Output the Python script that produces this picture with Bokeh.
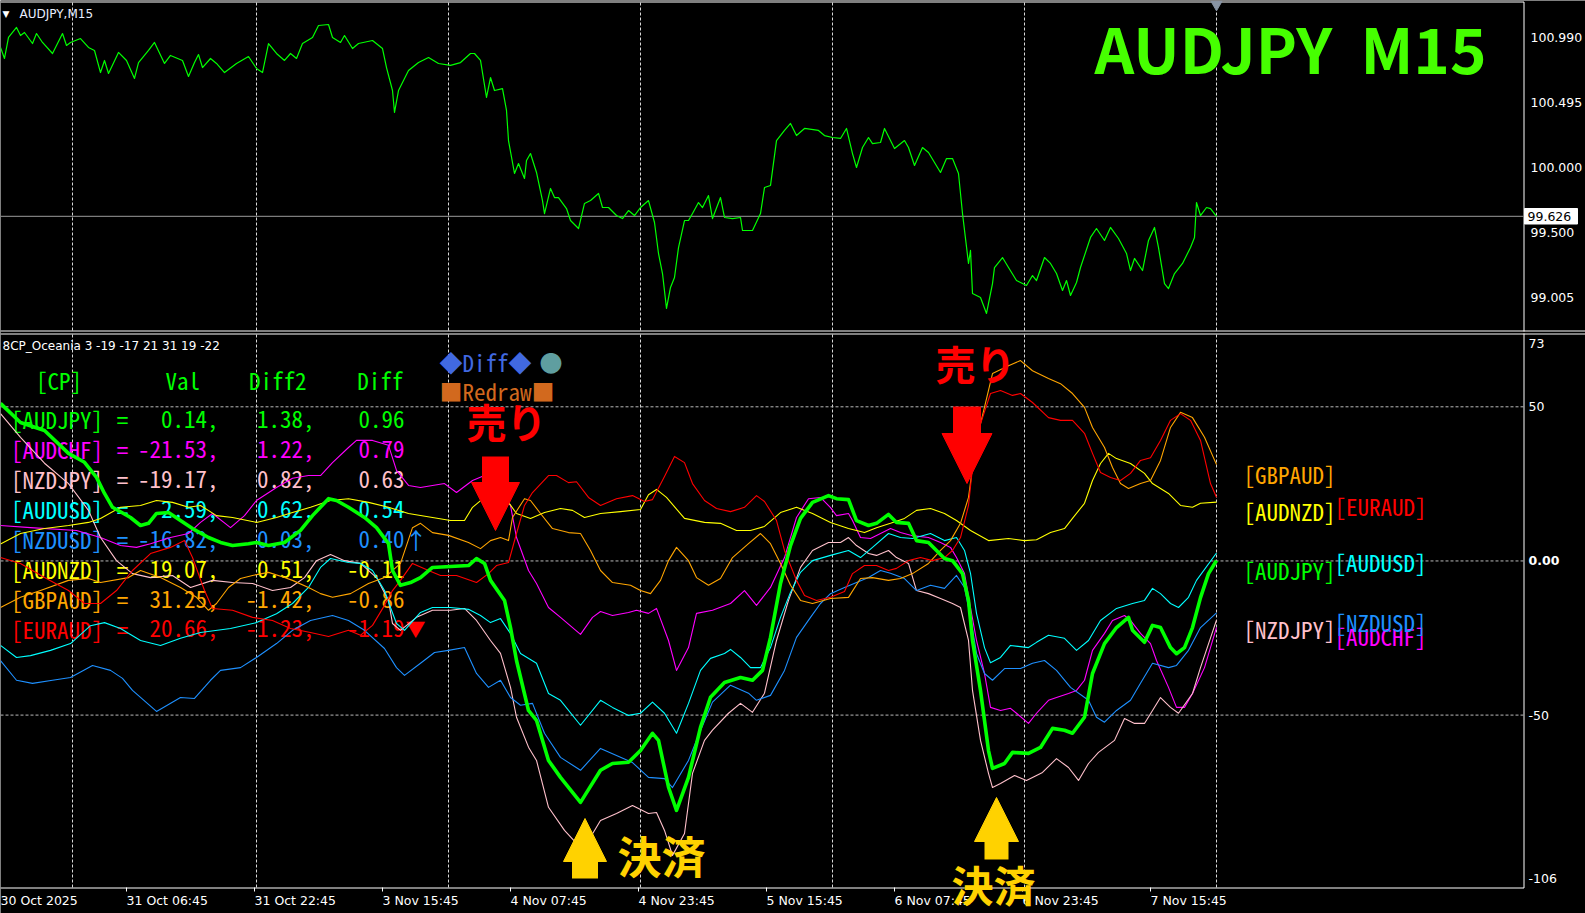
from bokeh.plotting import figure
from bokeh.models import Range1d, Label, Arrow, NormalHead, ColumnDataSource
from bokeh.core.properties import value
from bokeh.embed import file_html
from bokeh.resources import INLINE

# ======================= DATA =======================
# bar index = M15 bar number counted from the first visible bar
price_bars = [0,2,4,8,10,12,16,18,21,26,31,33,35,40,44,47,50,52,54,59,63,67,69,74,77,82,85,91,94,97,
              99,101,105,108,112,118,124,128,131,134,138,142,145,148,151,156,159,164,166,170,172,176,179,186,191,193,196,197,199,204,
              209,214,219,225,230,235,237,240,243,245,247,251,253,254,257,259,262,263,265,268,271,272,275,277,279,283,285,289,292,295,
              299,301,304,308,311,314,317,320,324,327,329,331,333,335,337,339,342,344,346,349,351,354,356,360,362,366,370,371,376,380,
              382,385,388,392,395,398,402,409,412,416,420,423,426,428,431,434,436,440,442,447,452,454,457,461,464,467,470,473,476,479,
              481,484,485,486,490,493,496,497,501,504,508,513,516,518,522,525,528,531,533,535,538,540,545,548,552,555,559,563,565,567,
              571,574,577,579,582,584,587,591,595,597,598,600,603,605,608]
price_vals = [100.912,100.828,100.988,101.064,101.003,101.026,100.942,101.018,100.950,100.866,
              101.018,100.927,100.950,100.980,100.912,100.889,100.721,100.813,100.714,100.874,
              100.813,100.676,100.797,100.889,100.950,100.790,100.851,100.813,100.691,100.797,
              100.858,100.759,100.828,100.790,100.721,100.790,100.843,100.752,100.721,100.942,
              100.866,100.813,100.866,100.828,100.942,100.988,101.079,101.087,100.988,100.950,
              101.003,100.904,100.942,100.965,100.904,100.759,100.584,100.417,100.584,100.736,
              100.797,100.835,100.790,100.775,100.797,100.866,100.866,100.813,100.531,100.683,
              100.584,100.599,100.432,100.203,99.952,100.028,99.914,100.051,100.104,99.960,
              99.746,99.647,99.838,99.769,99.769,99.685,99.594,99.533,99.724,99.746,
              99.800,99.693,99.693,99.632,99.609,99.670,99.632,99.693,99.746,99.579,
              99.343,99.190,98.924,99.084,99.160,99.388,99.594,99.594,99.647,99.731,
              99.693,99.784,99.609,99.769,99.617,99.609,99.617,99.518,99.518,99.647,
              99.845,99.861,100.203,100.280,100.333,100.241,100.295,100.280,100.241,100.226,
              100.219,100.295,100.104,99.998,100.150,100.226,100.180,100.188,100.295,100.142,
              100.203,100.150,100.013,100.150,100.112,100.036,99.960,100.066,100.066,99.952,
              99.647,99.267,99.366,99.038,99.008,98.886,99.114,99.236,99.312,99.236,
              99.137,99.099,99.175,99.137,99.312,99.267,99.190,99.061,99.137,99.023,
              99.122,99.236,99.465,99.533,99.442,99.541,99.457,99.343,99.213,99.305,
              99.213,99.442,99.541,99.388,99.114,99.076,99.190,99.267,99.388,99.465,
              99.731,99.632,99.693,99.685,99.626]
last_price = 99.626
price_ticks = [99.005, 99.500, 100.000, 100.495, 100.990]

audjpy_bars = [0,10,22,34,42,48,52,56,65,70,74,78,84,90,96,104,110,116,124,128,134,142,150,156,164,168,174,182,188,194,
               196,200,205,210,216,225,234,238,242,245,252,255,258,264,268,274,280,290,300,306,314,320,326,329,334,338,344,350,355,362,
               370,376,381,385,390,395,400,406,414,418,424,428,434,438,444,448,454,458,464,468,472,476,481,484,486,490,494,496,502,506,
               514,520,526,532,536,542,546,552,558,564,566,572,576,580,585,588,592,596,600,604,608]
audjpy_vals = [51.1,44.9,42.3,34.9,32.0,27.1,21.9,17.4,14.1,11.5,12.2,15.4,15.7,13.1,10.5,7.6,6.0,5.0,5.6,6.0,
               5.0,6.0,9.9,14.7,20.2,19.6,17.4,14.1,10.8,5.6,-3.1,-7.9,-7.0,-5.4,-2.1,-1.8,-1.5,0.8,-0.8,-6.3,
               -12.8,-21.6,-32.3,-48.5,-51.7,-64.7,-70.2,-78.3,-67.9,-65.7,-65.3,-61.5,-55.9,-58.2,-73.4,-80.9,-70.2,-54.0,-44.2,-39.4,
               -37.8,-38.7,-35.5,-24.8,-7.3,5.0,13.8,19.0,21.2,20.2,19.9,13.1,11.5,12.2,15.1,12.5,12.2,6.6,6.0,3.4,
               0.8,0.1,-4.1,-12.8,-25.8,-42.0,-61.5,-67.3,-65.7,-62.1,-62.4,-60.5,-54.3,-54.9,-55.9,-50.7,-36.5,-26.8,-21.6,-18.3,
               -22.5,-26.4,-20.9,-21.6,-28.1,-30.1,-28.1,-21.6,-11.9,-4.1,0.14]

audchf_bars = [0,15,38,50,60,68,75,85,94,100,106,115,122,128,138,146,154,160,166,174,178,186,194,198,204,210,222,228,236,242,
               250,255,258,264,268,274,280,290,296,300,306,314,318,324,328,334,338,344,348,356,365,372,378,385,392,398,404,410,415,418,
               424,426,430,435,440,445,450,456,464,470,475,478,482,485,488,492,495,500,505,508,514,518,524,528,534,538,542,546,552,556,
               562,565,570,575,578,584,588,592,596,602,608]
audchf_vals = [11.5,10.8,9.9,7.6,5.0,4.4,5.6,7.6,8.9,12.5,15.4,10.8,14.7,19.6,23.8,26.8,27.7,27.7,31.9,36.8,
               39.1,39.1,37.5,29.4,24.5,23.8,25.1,22.2,26.1,27.7,21.9,18.0,7.6,-3.1,-7.3,-15.1,-18.3,-23.8,-18.3,-16.4,
               -17.7,-16.7,-16.0,-17.0,-15.4,-25.8,-35.5,-28.1,-17.0,-16.0,-13.8,-9.6,-14.4,-8.6,1.1,14.1,20.2,20.6,17.3,14.7,
               15.4,13.1,7.6,7.3,8.9,10.5,9.2,8.2,7.6,6.0,4.4,1.1,-4.1,-15.1,-25.8,-36.5,-47.5,-48.5,-47.8,-49.4,
               -52.7,-49.4,-45.2,-44.3,-43.0,-42.0,-38.7,-29.0,-23.5,-19.3,-17.7,-19.3,-23.5,-26.8,-32.3,-41.0,-47.5,-47.5,-43.0,-34.6,
               -21.53]

nzdjpy_bars = [0,10,22,34,44,50,58,66,75,86,95,106,116,126,136,145,152,158,165,172,180,188,194,196,200,208,216,225,232,238,
               245,250,255,258,264,268,274,282,288,294,300,308,316,324,328,332,336,342,346,352,356,364,370,376,382,388,394,400,406,414,
               420,424,428,434,438,444,448,454,458,464,470,476,480,484,486,490,494,496,500,507,513,521,528,534,539,544,549,557,562,567,
               572,580,585,589,596,600,608]
nzdjpy_vals = [47.8,40.1,31.7,25.1,16.4,7.6,0.1,-4.1,-5.4,-4.7,-8.6,-6.3,-7.0,-7.3,-9.6,-8.6,-5.4,0.1,2.1,0.1,
               -0.8,-5.4,-12.8,-20.3,-22.5,-18.3,-16.0,-16.0,-15.4,-19.3,-25.8,-30.0,-41.0,-50.7,-60.4,-64.7,-79.9,-87.4,-91.6,-90.7,
               -84.2,-81.9,-79.3,-81.9,-81.6,-87.4,-95.5,-88.4,-68.9,-58.2,-54.9,-49.4,-46.2,-49.1,-42.9,-25.8,-12.8,-2.1,3.4,6.0,
               6.0,7.6,5.0,2.4,1.8,3.4,1.1,-0.8,-9.6,-10.6,-12.2,-13.8,-15.1,-25.8,-42.0,-58.2,-68.9,-73.5,-72.2,-69.6,
               -71.2,-68.6,-64.1,-67.0,-71.2,-65.7,-62.1,-58.2,-51.1,-52.7,-52.7,-44.3,-47.5,-49.4,-43.0,-34.6,-19.17]

audusd_bars = [0,8,15,25,35,45,52,60,70,80,90,100,115,128,138,146,154,160,165,174,180,186,192,195,198,202,210,216,225,234,
               240,245,250,255,260,268,274,280,290,300,306,314,320,326,332,338,344,350,355,362,365,370,375,380,385,390,395,400,406,415,
               424,430,436,444,450,456,465,472,478,482,485,488,492,495,500,505,514,518,524,532,538,544,550,558,566,572,576,580,585,589,
               594,598,608]
audusd_vals = [-27.4,-31.3,-30.7,-29.0,-26.8,-21.0,-20.0,-21.9,-25.8,-27.4,-25.1,-23.2,-21.9,-20.0,-17.1,-13.8,-8.6,-2.1,0.8,-0.5,
               -0.8,-3.1,-9.6,-15.1,-20.3,-22.5,-16.7,-15.1,-15.1,-15.7,-17.7,-20.0,-18.7,-23.5,-30.0,-33.2,-43.0,-45.2,-53.3,-45.2,
               -47.5,-50.1,-49.4,-45.8,-49.4,-55.9,-46.2,-35.5,-31.6,-30.0,-28.7,-31.3,-34.6,-34.6,-28.1,-18.3,-10.2,-3.7,0.1,1.8,
               3.4,1.1,4.4,8.9,7.6,7.3,8.9,6.6,7.6,3.4,-4.0,-17.0,-28.1,-33.0,-31.3,-27.4,-28.1,-26.4,-24.1,-25.1,
               -29.0,-25.8,-19.3,-15.4,-13.8,-12.8,-8.9,-10.6,-13.8,-15.1,-11.8,-6.3,2.59]

nzdusd_bars = [0,8,16,26,35,46,55,61,66,78,90,97,105,110,120,128,138,146,155,166,174,182,192,198,202,210,217,224,232,238,
               244,250,255,260,266,272,280,290,300,308,316,324,332,336,344,350,356,365,374,378,385,392,398,405,410,415,422,428,434,440,
               445,452,458,465,472,478,482,485,488,492,496,502,510,516,522,528,535,544,548,552,558,565,570,576,584,588,594,600,608]
nzdusd_vals = [-32.3,-38.7,-39.7,-38.7,-37.8,-33.9,-35.5,-38.1,-42.0,-48.8,-44.3,-44.6,-38.7,-35.5,-34.6,-31.3,-26.8,-22.5,-19.3,-17.7,
               -19.3,-22.5,-28.4,-34.6,-37.1,-33.2,-29.7,-29.0,-28.1,-36.5,-41.0,-38.7,-44.3,-46.8,-46.2,-55.9,-63.7,-67.9,-60.8,-63.1,
               -65.4,-70.2,-70.6,-73.5,-64.7,-55.0,-45.8,-40.3,-42.9,-45.2,-43.6,-35.5,-24.8,-18.3,-13.8,-10.6,-8.6,-7.0,-5.4,-3.1,
               -4.0,-5.7,-9.6,-7.9,-8.9,-4.7,-8.6,-18.3,-30.0,-36.5,-38.7,-34.9,-34.9,-33.2,-32.3,-35.5,-41.0,-45.2,-50.7,-52.3,
               -48.5,-45.2,-39.7,-33.2,-34.6,-33.9,-29.0,-21.6,-16.82]

audnzd_bars = [0,10,22,34,44,50,60,70,78,86,94,100,108,116,128,138,146,155,165,174,184,194,204,216,225,232,236,242,248,254,
               258,265,272,280,286,292,300,310,320,324,328,333,342,352,360,368,375,382,390,398,406,415,424,432,438,445,452,458,465,472,
               478,485,494,504,512,518,525,532,536,542,546,550,554,558,565,572,576,584,590,596,600,608]
audnzd_vals = [5.5,8.9,10.5,11.5,12.5,13.8,17.4,18.0,19.6,19.0,17.4,18.0,14.7,14.1,12.5,14.1,15.7,17.4,19.6,20.2,
               19.0,17.4,15.4,14.1,13.1,13.1,17.4,20.6,20.2,19.0,15.4,13.8,15.7,17.0,16.4,14.1,15.4,16.0,16.7,21.5,
               23.2,20.6,13.8,12.5,12.2,9.9,9.9,11.2,15.7,17.4,15.4,12.5,10.5,9.2,10.8,12.2,13.8,16.4,17.0,15.4,
               13.1,9.9,6.6,7.3,6.6,6.9,9.2,10.5,13.8,18.7,26.1,31.6,34.9,33.2,31.6,28.4,25.1,21.9,18.0,17.4,18.7,19.07]

gbpaud_bars = [0,10,20,34,44,50,64,70,80,90,98,104,108,114,120,126,134,142,146,154,160,166,175,184,192,200,206,210,216,224,
               234,240,245,250,254,256,262,265,270,276,284,290,295,300,306,315,320,325,330,334,338,344,348,354,360,366,374,380,385,390,
               395,400,406,415,424,430,436,444,450,456,464,470,475,480,484,486,490,494,496,504,510,516,524,530,536,542,546,552,556,560,
               564,570,575,580,585,590,596,602,608]
gbpaud_vals = [-15.1,-11.8,-9.6,-6.3,-5.7,-7.0,-5.4,-3.1,-5.4,-8.6,-11.8,-16.0,-13.8,-8.6,-5.7,-4.7,-3.7,-5.4,-6.3,-8.6,
               -10.6,-11.8,-10.6,-7.3,-5.4,-0.8,10.8,12.2,9.2,8.3,6.0,4.0,6.6,7.6,6.6,14.1,20.2,19.6,15.4,10.5,
               9.2,8.9,3.4,-3.1,-7.0,-7.9,-9.6,-10.6,-6.3,0.1,4.4,0.1,-5.4,-7.9,-5.7,1.1,5.6,8.9,5.6,-0.8,
               -7.9,-12.8,-13.8,-12.2,-11.8,-5.7,-5.4,-6.3,-5.7,-4.1,-0.8,3.4,6.6,12.2,20.6,30.3,44.5,55.3,60.8,63.3,
               65.0,61.7,59.2,57.5,54.3,49.8,43.3,36.8,30.3,25.1,23.5,25.1,26.1,32.6,43.3,48.2,46.5,40.1,31.25]

euraud_bars = [0,10,22,34,42,50,58,66,75,85,92,96,102,106,116,126,136,145,155,164,174,180,186,192,196,200,206,214,220,228,
               238,244,248,254,258,262,266,274,278,284,288,294,300,308,316,322,326,332,337,342,346,352,358,365,372,378,382,388,392,398,
               402,408,415,422,426,432,438,444,448,454,460,466,472,476,480,484,486,490,495,500,506,510,516,524,530,536,542,546,550,555,
               560,565,570,575,580,585,590,595,600,605,608]
euraud_vals = [1.1,-0.8,-5.4,-9.6,-13.8,-13.8,-9.6,-3.1,2.4,4.4,6.6,1.1,-9.6,-15.4,-16.0,-18.3,-19.3,-21.9,-23.2,-24.5,
               -22.5,-24.1,-20.9,-14.4,-9.6,-6.3,-0.8,-3.1,-4.7,-4.7,-7.0,-4.1,-1.5,-0.5,8.9,18.0,22.2,27.7,27.7,25.4,
               25.7,20.6,18.0,20.2,21.2,19.3,19.9,27.4,33.9,31.9,25.1,19.6,17.0,16.0,17.4,21.2,19.3,13.1,3.4,-6.3,
               -11.2,-12.8,-11.8,-9.9,-4.1,-1.5,-1.5,-3.1,-2.4,0.1,1.1,0.1,1.1,3.4,7.6,18.0,30.3,44.5,54.3,55.3,
               53.7,54.3,51.4,46.5,45.6,45.6,41.4,34.9,28.7,27.1,26.1,28.4,32.6,33.5,39.1,45.6,47.8,45.6,39.1,25.1,20.66]

cp_names = ["AUDJPY", "AUDCHF", "NZDJPY", "AUDUSD", "NZDUSD", "AUDNZD", "GBPAUD", "EURAUD"]
cp_val = [0.14, -21.53, -19.17, 2.59, -16.82, 19.07, 31.25, 20.66]
cp_diff2 = [1.38, 1.22, 0.82, 0.62, 0.03, 0.51, -1.42, -1.23]
cp_diff = [0.96, 0.79, 0.63, 0.54, 0.40, -0.11, -0.86, -1.19]

time_labels = ["30 Oct 2025", "31 Oct 06:45", "31 Oct 22:45", "3 Nov 15:45", "4 Nov 07:45",
               "4 Nov 23:45", "5 Nov 15:45", "6 Nov 07:45", "6 Nov 23:45", "7 Nov 15:45"]
time_label_bars = [-1, 63, 127, 191, 255, 319, 383, 447, 511, 575]
day_bars = [36, 128, 224, 320, 416, 512, 608]
ind_axis_vals = [73, 50, 0, -50, -106]
ind_params = "8CP_Oceania 3 -19 -17 21 31 19 -22"

# ======================= STYLE / GEOMETRY =======================
cp_colors = ["#00ff00", "#ff00ff", "#ffc0cb", "#00ffff", "#1e90ff", "#ffff00", "#ffa500", "#ff0000"]
label_col = [0, 1, 0, 1, 1, 0, 0, 1]

W, H = 1585, 913
PX_PER_BAR = 2.0
PRICE_100_Y = 166.7
PX_PER_PRICE = 131.3
ZERO_Y = 560.45
PX_PER_UNIT = 3.083
PLOT_R = 1523          # right edge of both chart panels
TOP_END = 331          # bottom of price panel
BOT_START = 333        # top of indicator panel
BOT_END = 887          # time axis line

def bx(X):
    return X / PX_PER_BAR

def pv(Y):
    return 100.0 + (PRICE_100_Y - Y) / PX_PER_PRICE

def vy(Y):
    return (ZERO_Y - Y) / PX_PER_UNIT

BG = "black"
MONO = "Noto Sans Mono CJK JP"
JP = "Noto Sans CJK JP"
AXF = "DejaVu Sans"
GRID_V = "#d8d8d8"
GRID_H = "#b8b8b8"
TSIZE = "23px"

p = figure(width=W, height=H,
           x_range=Range1d(bx(0), bx(W)), y_range=Range1d(vy(H), vy(0)),
           extra_y_ranges={"price": Range1d(pv(H), pv(0))},
           x_axis_location=None, y_axis_location=None, title=None,
           toolbar_location=None, output_backend="svg",
           background_fill_color=BG, border_fill_color=BG, outline_line_color=None,
           min_border=0)
p.grid.visible = False


def series_line(xs, ys, color, width, yr="default"):
    n = min(len(xs), len(ys))
    p.line(list(xs[:n]), list(ys[:n]), line_color=color, line_width=width, line_join="round",
           y_range_name=yr)


# ---------------- panel frames, grid ----------------
p.segment(x0=[bx(0), bx(PLOT_R + 0.5)], y0=[pv(1.5), pv(1.5)],
          x1=[bx(PLOT_R + 0.5), bx(PLOT_R + 0.5)], y1=[pv(1.5), pv(TOP_END)],
          line_color="white", line_width=1, y_range_name="price")
p.segment(x0=day_bars, y0=[pv(2)] * len(day_bars), x1=day_bars, y1=[pv(TOP_END - 1)] * len(day_bars),
          line_color=GRID_V, line_width=1, line_dash="3 2", y_range_name="price")
p.segment(x0=[bx(0)], y0=[last_price], x1=[bx(PLOT_R)], y1=[last_price],
          line_color="#9c9c9c", line_width=1, y_range_name="price")
p.segment(x0=[bx(0), bx(0)], y0=[vy(TOP_END - 0.5), vy(BOT_START + 0.5)],
          x1=[bx(W), bx(W)], y1=[vy(TOP_END - 0.5), vy(BOT_START + 0.5)],
          line_color="white", line_width=1)
p.segment(x0=[bx(PLOT_R + 0.5), bx(0)], y0=[vy(BOT_START), vy(BOT_END + 0.5)],
          x1=[bx(PLOT_R + 0.5), bx(PLOT_R + 0.5)], y1=[vy(BOT_END + 0.5), vy(BOT_END + 0.5)],
          line_color="white", line_width=1)
p.segment(x0=day_bars, y0=[vy(BOT_START + 1)] * len(day_bars), x1=day_bars, y1=[vy(BOT_END)] * len(day_bars),
          line_color=GRID_V, line_width=1, line_dash="3 2")
p.segment(x0=[bx(0)] * 3, y0=[50, 0, -50], x1=[bx(PLOT_R)] * 3, y1=[50, 0, -50],
          line_color=GRID_H, line_width=1, line_dash="3 2")
tick_bars = [b for b in time_label_bars if b >= 0]
p.segment(x0=tick_bars, y0=[vy(BOT_END)] * len(tick_bars), x1=tick_bars, y1=[vy(BOT_END + 4)] * len(tick_bars),
          line_color="white", line_width=1)

# ---------------- price scale ----------------
p.text(x=[bx(1530)] * len(price_ticks), y=price_ticks, text=[f"{t:.3f}" for t in price_ticks],
       text_color="white", text_font=value(AXF), text_font_size="12.5px",
       text_align="left", text_baseline="middle", y_range_name="price")
p.quad(left=[bx(1524)], right=[bx(1577)], top=[pv(208)], bottom=[pv(223.5)],
       fill_color="white", line_color="white", y_range_name="price")
p.text(x=[bx(1527)], y=[last_price], text=[f"{last_price:.3f}"], text_color="black",
       text_font=value(AXF), text_font_size="12.5px", text_align="left", text_baseline="middle",
       y_range_name="price")
p.scatter(x=[day_bars[-1]], y=[pv(4)], marker="inverted_triangle", size=11,
          fill_color="#8894a4", line_color="#8894a4", y_range_name="price")

# ---------------- indicator scale ----------------
p.text(x=[bx(1528)], y=[ind_axis_vals[0]], text=[f"{ind_axis_vals[0]}"], text_color="white",
       text_font=value(AXF), text_font_size="12.5px", text_align="left", text_baseline="top",
       y_offset=3)
p.text(x=[bx(1528)] * 2, y=[ind_axis_vals[1], ind_axis_vals[3]],
       text=[f"{ind_axis_vals[1]}", f"{ind_axis_vals[3]}"], text_color="white",
       text_font=value(AXF), text_font_size="12.5px", text_align="left", text_baseline="middle")
p.text(x=[bx(1528)], y=[ind_axis_vals[2]], text=[f"{ind_axis_vals[2]:.2f}"], text_color="white",
       text_font=value(AXF), text_font_size="12.5px", text_font_style="bold",
       text_align="left", text_baseline="middle")
p.text(x=[bx(1528)], y=[ind_axis_vals[4]], text=[f"{ind_axis_vals[4]}"], text_color="white",
       text_font=value(AXF), text_font_size="12.5px", text_align="left", text_baseline="bottom",
       y_offset=-5)

# ---------------- time labels ----------------
p.text(x=[max(b, 0) for b in time_label_bars], y=[vy(900)] * len(time_label_bars), text=time_labels,
       text_color="white", text_font=value(AXF), text_font_size="12.5px",
       text_align="left", text_baseline="middle")

# ---------------- table (drawn before the lines) ----------------
ROW0_Y, ROW_DY, HEAD_Y = 418.8, 29.95, 379.0
row_y = [vy(ROW0_Y + i * ROW_DY) for i in range(len(cp_names))]
tfont = dict(text_font=value(MONO), text_font_size=TSIZE, text_baseline="middle")

p.text(x=[bx(35.5), bx(165), bx(248.5), bx(356.7)], y=[vy(HEAD_Y)] * 4,
       text=["[CP]", "Val", "Diff2", "Diff"], text_color="#00ff00", text_align="left", **tfont)
p.text(x="x", y="y", text="t", text_color="c", text_align="left",
       source=ColumnDataSource(dict(x=[bx(10.5)] * 8, y=row_y, t=[f"[{n}]" for n in cp_names], c=cp_colors)),
       **tfont)
p.text(x="x", y="y", text="t", text_color="c", text_align="center",
       source=ColumnDataSource(dict(x=[bx(122)] * 8, y=row_y, t=["="] * 8, c=cp_colors)), **tfont)
p.text(x="x", y="y", text="t", text_color="c", text_align="right",
       source=ColumnDataSource(dict(x=[bx(218)] * 8, y=row_y, t=[f"{v:.2f}," for v in cp_val], c=cp_colors)),
       **tfont)
p.text(x="x", y="y", text="t", text_color="c", text_align="right",
       source=ColumnDataSource(dict(x=[bx(314)] * 8, y=row_y, t=[f"{v:.2f}," for v in cp_diff2], c=cp_colors)),
       **tfont)
p.text(x="x", y="y", text="t", text_color="c", text_align="right",
       source=ColumnDataSource(dict(x=[bx(404)] * 8, y=row_y, t=[f"{v:.2f}" for v in cp_diff], c=cp_colors)),
       **tfont)
p.text(x=[bx(404)], y=[row_y[4]], text=["↑"], text_color=cp_colors[4], text_align="left", **tfont)
p.text(x=[bx(405)], y=[row_y[7]], text=["▼"], text_color=cp_colors[7], text_align="left",
       text_font=value(MONO), text_font_size="20px", text_baseline="middle")

# labels at the right end of the lines
p.text(x="x", y="y", text="t", text_color="c", text_align="left",
       source=ColumnDataSource(dict(x=[bx(1243) if c == 0 else bx(1334) for c in label_col], y=cp_val,
                                    t=[f"[{n}]" for n in cp_names], c=cp_colors)),
       text_font=value(MONO), text_font_size=TSIZE, text_baseline="middle", y_offset=9)

# ---------------- lines ----------------
series_line(price_bars, price_vals, "#00ff00", 1.2, yr="price")
series_line(audchf_bars, audchf_vals, cp_colors[1], 1.1)
series_line(nzdjpy_bars, nzdjpy_vals, cp_colors[2], 1.1)
series_line(audusd_bars, audusd_vals, cp_colors[3], 1.1)
series_line(nzdusd_bars, nzdusd_vals, cp_colors[4], 1.1)
series_line(audnzd_bars, audnzd_vals, cp_colors[5], 1.1)
series_line(gbpaud_bars, gbpaud_vals, cp_colors[6], 1.1)
series_line(euraud_bars, euraud_vals, cp_colors[7], 1.1)
series_line(audjpy_bars, audjpy_vals, cp_colors[0], 3.6)

# ---------------- texts on top ----------------
p.add_layout(Label(x=bx(2), y=pv(13), y_range_name="price", text="▼", text_color="white", text_font=AXF,
                   text_font_size="9px", text_baseline="middle"))
p.add_layout(Label(x=bx(19), y=pv(13), y_range_name="price", text="AUDJPY,M15", text_color="#e8eeff",
                   text_font=AXF, text_font_size="12px", text_baseline="middle"))
p.add_layout(Label(x=bx(1094), y=pv(46), y_range_name="price", text="AUDJPY\u00a0\u00a0M15",
                   text_color="#46ff00", text_font=JP, text_font_style="bold", text_font_size="62px",
                   text_baseline="middle"))
p.add_layout(Label(x=bx(2), y=vy(345), text=ind_params, text_color="white", text_font=AXF,
                   text_font_size="12px", text_baseline="middle"))
p.add_layout(Label(x=bx(439), y=vy(361), text="◆Diff◆", text_color="#4169e1", text_font=MONO,
                   text_font_size=TSIZE, text_baseline="middle"))
p.add_layout(Label(x=bx(539), y=vy(361), text="●", text_color="#5f9ea0", text_font=MONO,
                   text_font_size=TSIZE, text_baseline="middle"))
p.add_layout(Label(x=bx(439), y=vy(390), text="■Redraw■", text_color="#d2691e", text_font=MONO,
                   text_font_size=TSIZE, text_baseline="middle"))

for X, Y in ((466, 420), (935, 362)):
    p.add_layout(Label(x=bx(X), y=vy(Y), text="売り", text_color="#ff0000", text_font=JP,
                       text_font_style="bold", text_font_size="40px", text_baseline="middle"))
for X, Y, fs in ((617, 854, "44px"), (951, 883, "42px")):
    p.add_layout(Label(x=bx(X), y=vy(Y), text="決済", text_color="#ffd200", text_font=JP,
                       text_font_style="bold", text_font_size=fs, text_baseline="middle"))

for cx, y0, y1, head, shaft, col in ((495, 456, 530, 48, 27, "#ff0000"),
                                      (966.5, 406, 483, 50, 28, "#ff0000"),
                                      (584.5, 878, 818, 43, 26, "#ffd200"),
                                      (996, 859, 797, 44, 24, "#ffd200")):
    p.add_layout(Arrow(x_start=bx(cx), y_start=vy(y0), x_end=bx(cx), y_end=vy(y1),
                       line_color=col, line_width=shaft,
                       end=NormalHead(size=head, fill_color=col, line_color=col, line_width=1)))

open("out.html", "w").write(file_html(p, INLINE))
